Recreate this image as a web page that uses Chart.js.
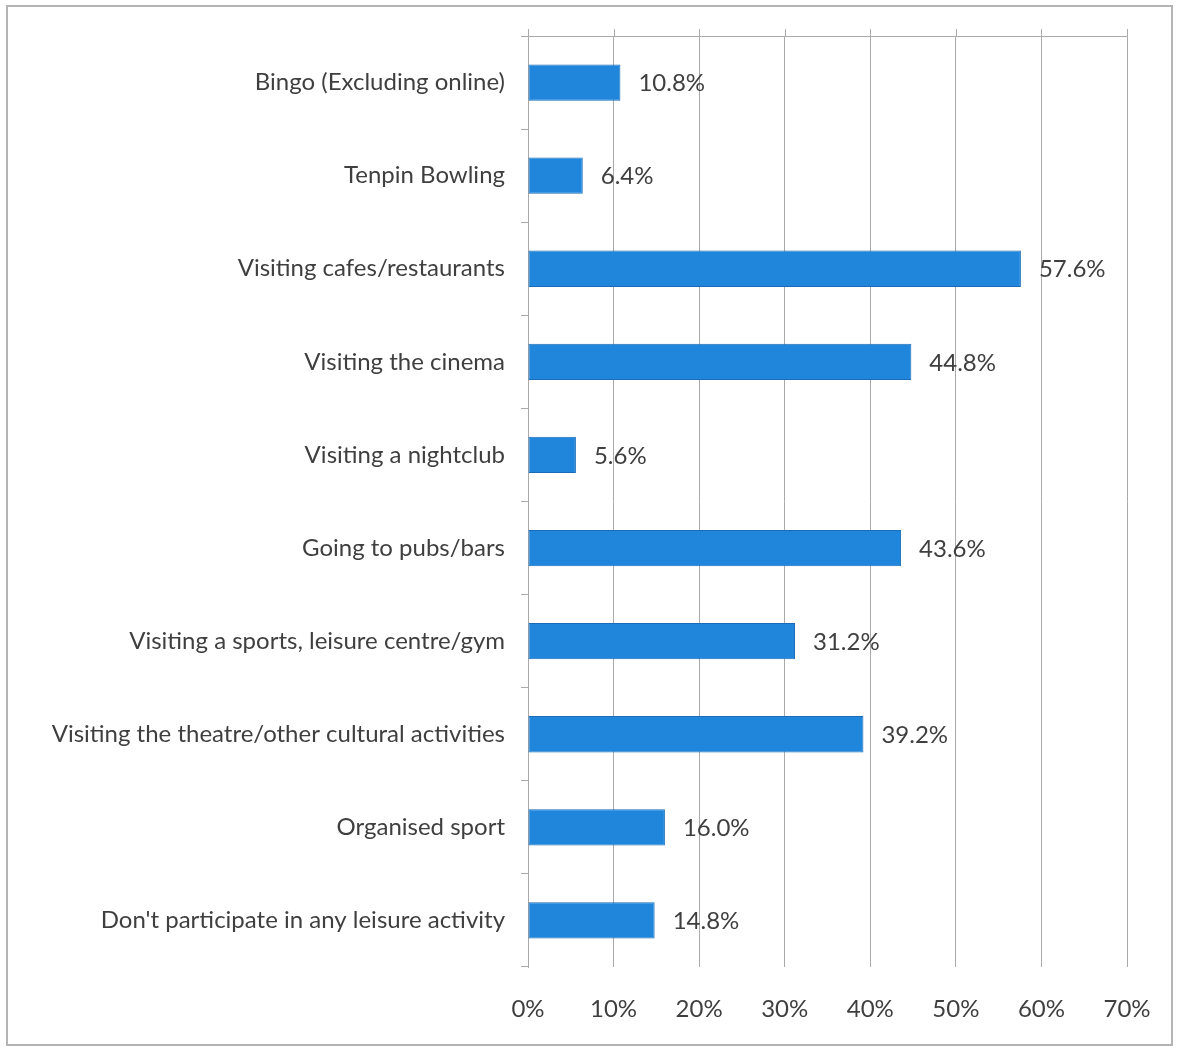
<!DOCTYPE html>
<html>
<head>
<meta charset="utf-8">
<script src="https://cdn.jsdelivr.net/npm/chart.js@4.4.1/dist/chart.umd.min.js"></script>
<style>
  html, body { margin: 0; padding: 0; background: #fff; }
  #frame {
    position: absolute; left: 6px; top: 5px; width: 1167px; height: 1041px;
    box-sizing: border-box; border: 2px solid #b4b4b4; background: #fff;
  }
  #frame canvas { display: block; }
</style>
</head>
<body>
<div id="frame"><canvas id="chart" width="1163" height="1037"></canvas></div>
<script>
// Leisure activities, share of respondents (%)
const categories = [
  "Bingo (Excluding online)",
  "Tenpin Bowling",
  "Visiting cafes/restaurants",
  "Visiting the cinema",
  "Visiting a nightclub",
  "Going to pubs/bars",
  "Visiting a sports, leisure centre/gym",
  "Visiting the theatre/other cultural activities",
  "Organised sport",
  "Don't participate in any leisure activity"
];
const values = [10.8, 6.4, 57.6, 44.8, 5.6, 43.6, 31.2, 39.2, 16.0, 14.8];
const xTicks = [0, 10, 20, 30, 40, 50, 60, 70];

const FONT = "Lato, 'Open Sans', sans-serif";
const TEXT = "#3f3f3f";
const GRID = "#aaaaaa";

// bevelled blue fill, shaded top to bottom per bar
function barFill(ctx) {
  const chart = ctx.chart;
  const meta = chart.getDatasetMeta(ctx.datasetIndex);
  const el = meta && meta.data[ctx.dataIndex];
  if (!el || !isFinite(el.y) || !isFinite(el.height)) return "#1f86dc";
  const top = el.y - el.height / 2, bot = el.y + el.height / 2;
  const g = chart.ctx.createLinearGradient(0, top, 0, bot);
  g.addColorStop(0, "#55adf0");
  g.addColorStop(0.12, "#2d95e9");
  g.addColorStop(0.55, "#1f88de");
  g.addColorStop(0.88, "#1b7ccf");
  g.addColorStop(1, "#1664b2");
  return g;
}

// value labels just right of each bar
const valueLabels = {
  id: "valueLabels",
  afterDatasetsDraw(chart) {
    const c = chart.ctx;
    const meta = chart.getDatasetMeta(0);
    c.save();
    c.font = "24px " + FONT;
    c.fillStyle = TEXT;
    c.textAlign = "left";
    c.textBaseline = "middle";
    meta.data.forEach((bar, i) => {
      c.fillText(values[i].toFixed(1) + "%", bar.x + 18, bar.y + 1);
    });
    c.restore();
  }
};

// rule along the top of the plot area, with the gridlines poking above it
const topRule = {
  id: "topRule",
  beforeDatasetsDraw(chart) {
    const a = chart.chartArea, c = chart.ctx, xs = chart.scales.x;
    c.save();
    c.strokeStyle = GRID;
    c.lineWidth = 1;
    c.beginPath();
    c.moveTo(a.left - 7, a.top + 0.5);
    c.lineTo(a.right, a.top + 0.5);
    xTicks.forEach(v => {
      const px = Math.round(xs.getPixelForValue(v)) + 0.5;
      c.moveTo(px, a.top - 7);
      c.lineTo(px, a.top);
    });
    c.stroke();
    c.restore();
  }
};

new Chart(document.getElementById("chart"), {
  type: "bar",
  data: {
    labels: categories,
    datasets: [{
      data: values,
      backgroundColor: barFill,
      borderColor: "#1a6cb8",
      borderWidth: 1,
      borderSkipped: false,
      categoryPercentage: 1,
      barPercentage: 0.39
    }]
  },
  options: {
    indexAxis: "y",
    responsive: false,
    animation: false,
    layout: { padding: { left: 10, right: 44, top: 29, bottom: 10 } },
    plugins: { legend: { display: false }, tooltip: { enabled: false } },
    scales: {
      x: {
        min: 0, max: 70,
        afterBuildTicks(scale) { scale.ticks = xTicks.map(v => ({ value: v })); },
        grid: { color: GRID, lineWidth: 1, drawTicks: false },
        border: { display: false },
        ticks: {
          padding: 28,
          color: TEXT,
          font: { family: FONT, size: 24 },
          callback: v => v + "%"
        },
        afterFit(scale) {
          scale.height = 67;
          scale.paddingLeft = 0;
          scale.paddingRight = 0;
        }
      },
      y: {
        offset: true,
        grid: {
          offset: true,
          drawOnChartArea: false,
          drawTicks: true,
          tickLength: 7,
          color: GRID
        },
        border: { display: true, color: GRID, width: 1 },
        ticks: {
          padding: 16,
          color: TEXT,
          font: { family: FONT, size: 24 }
        },
        afterFit(scale) {
          scale.width = 510;
          scale.paddingTop = 0;
          scale.paddingBottom = 0;
        }
      }
    }
  },
  plugins: [topRule, valueLabels]
});
</script>
</body>
</html>
